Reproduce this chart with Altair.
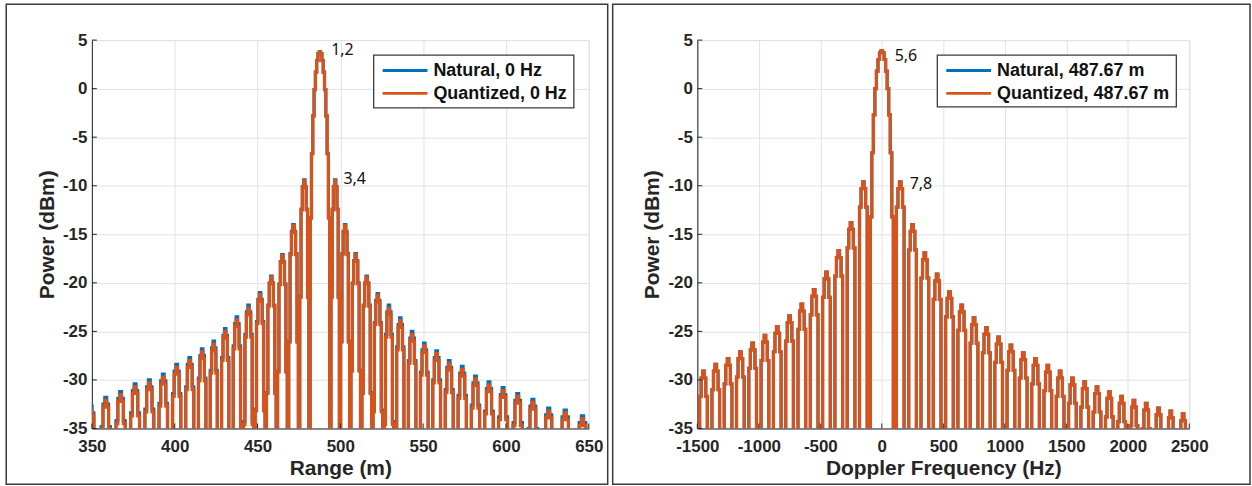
import altair as alt
import pandas as pd

# ---------------- data ----------------
# Range cut (left panel): null positions (m) and lobe peak levels (dBm)
RANGE_NULLS = [345.3, 353.9, 362.9, 371.8, 380.4, 389.0, 397.2, 405.2, 413.0, 420.2,
               427.0, 434.0, 441.1, 448.1, 455.0, 461.7, 468.4, 475.1, 481.4, 494.0,
               499.8, 506.0, 512.6, 519.3, 526.0, 532.7, 539.7, 547.0, 554.4, 561.9,
               569.6, 577.6, 585.6, 593.9, 602.6, 611.6, 620.9, 630.7, 640.9, 651.5]
RANGE_PEAKS_QUANTIZED = [-33.0, -32.1, -31.5, -30.7, -30.3, -29.7, -28.7, -28.0, -27.1, -26.3,
                         -25.0, -23.8, -22.6, -21.2, -19.4, -17.2, -14.1, -9.5, 3.8,
                         -9.5, -14.1, -17.1, -19.4, -21.3, -22.6, -23.9, -25.3, -26.5, -27.3,
                         -28.3, -28.9, -29.9, -30.5, -31.1, -31.7, -32.3, -33.2, -33.4, -34.0]
RANGE_PEAKS_NATURAL = [-32.7, -31.8, -31.2, -30.4, -30.0, -29.4, -28.4, -27.7, -26.8, -26.0,
                       -24.7, -23.5, -22.3, -21.0, -19.3, -17.1, -14.0, -9.4, 3.8,
                       -9.4, -14.0, -17.0, -19.3, -21.1, -22.3, -23.6, -25.0, -26.2, -27.0,
                       -28.0, -28.6, -29.6, -30.2, -30.8, -31.4, -32.0, -32.9, -33.1, -33.7]

# Doppler cut (right panel): null positions (Hz) and lobe peak levels (dBm)
DOPPLER_NULLS = [-1600, -1500, -1400, -1300, -1200, -1100, -1000, -900, -800, -700,
                 -600, -500, -400, -300, -200, -100, 100, 200, 300, 400, 500, 600,
                 700, 800, 900, 1000, 1100, 1200, 1300, 1400, 1500, 1600, 1700, 1800,
                 1900, 2000, 2100, 2200, 2300, 2400, 2500]
DOPPLER_PEAKS_QUANTIZED = [-30.0, -29.1, -28.4, -27.8, -27.1, -26.2, -25.4, -24.5, -23.4, -22.2,
                           -20.7, -18.9, -16.7, -13.8, -9.6, 3.9,
                           -9.6, -14.0, -16.9, -19.1, -20.9, -22.3, -23.6, -24.6, -25.6, -26.4,
                           -27.2, -27.8, -28.5, -29.1, -29.8, -30.2, -30.7, -31.2, -31.7, -32.1,
                           -32.4, -32.9, -33.2, -33.5]
DOPPLER_PEAKS_NATURAL = [-30.0, -29.1, -28.4, -27.8, -27.1, -26.2, -25.4, -24.5, -23.4, -22.2,
                         -20.7, -18.9, -16.7, -13.8, -9.6, 3.9,
                         -9.6, -14.0, -16.9, -19.1, -20.9, -22.3, -23.6, -24.6, -25.6, -26.4,
                         -27.2, -27.8, -28.5, -29.1, -29.8, -30.2, -30.7, -31.2, -31.7, -32.1,
                         -32.4, -32.9, -33.2, -33.5]

# sampled lobe profiles (fraction across the lobe, level below the lobe peak in dB)
SIDELOBE_U = [0.125, 0.25, 0.375, 0.5, 0.625, 0.75, 0.875]
RANGE_SIDELOBE_DB = [-12.0, -3.0, -0.7, 0.0, -0.7, -3.0, -12.0]
DOPPLER_SIDELOBE_DB = [-30.0, -2.6, -0.7, 0.0, -0.7, -2.6, -30.0]
MAINLOBE_U = [0.0625, 0.125, 0.1875, 0.25, 0.3125, 0.375, 0.4375, 0.5,
              0.5625, 0.625, 0.6875, 0.75, 0.8125, 0.875, 0.9375]
MAINLOBE_DB = [-17.1, -10.5, -6.6, -3.9, -2.1, -0.9, -0.2, 0.0,
               -0.2, -0.9, -2.1, -3.9, -6.6, -10.5, -17.1]
NULL_LEVEL = -80.0

RANGE_TICKS = [350, 400, 450, 500, 550, 600, 650]
DOPPLER_TICKS = [-1500, -1000, -500, 0, 500, 1000, 1500, 2000, 2500]
POWER_TICKS = [-35, -30, -25, -20, -15, -10, -5, 0, 5]

RANGE_LEGEND = ["Natural, 0 Hz", "Quantized, 0 Hz"]
DOPPLER_LEGEND = ["Natural, 487.67 m", "Quantized, 487.67 m"]
SERIES_COLORS = ["#0072BD", "#D95319"]

RANGE_NOTE_TEXT = ["1,2", "3,4"]
RANGE_NOTE_X = [494.5, 501.9]
RANGE_NOTE_Y = [4.0, -9.3]
DOPPLER_NOTE_TEXT = ["5,6", "7,8"]
DOPPLER_NOTE_X = [105, 227]
DOPPLER_NOTE_Y = [3.4, -9.8]

FONT = "Liberation Sans"
INK = "#262626"
H = 390


def build_trace(nulls, peaks, side_db):
    main = peaks.index(max(peaks))
    xs, ys = [nulls[0]], [NULL_LEVEL]
    for i, p in enumerate(peaks):
        a, b = nulls[i], nulls[i + 1]
        us, ds = (MAINLOBE_U, MAINLOBE_DB) if i == main else (SIDELOBE_U, side_db)
        for u, d in zip(us, ds):
            xs.append(a + u * (b - a))
            ys.append(p + d)
        xs.append(b)
        ys.append(NULL_LEVEL)
    return pd.DataFrame({"x": xs, "y": ys})


def one_row():
    return alt.Data(values=[{"k": 0}])


def panel(nulls, peaks_n, peaks_q, side_db, xdom, xticks, xtitle, legend_labels,
          note_text, note_x, note_y, W, frame, legend_box):
    xscale = alt.Scale(domain=xdom, nice=False, zero=False)
    yscale = alt.Scale(domain=[-35, 5], nice=False, zero=False)
    xaxis = alt.Axis(values=xticks, title=xtitle, labelExpr="toString(datum.value)",
                     labelPadding=10, titlePadding=3, labelFlush=False)
    yaxis = alt.Axis(values=POWER_TICKS, title="Power (dBm)", labelExpr="toString(datum.value)",
                     labelPadding=5, titlePadding=5)

    def X():
        return alt.X("x:Q", scale=xscale, axis=xaxis)

    def Y():
        return alt.Y("y:Q", scale=yscale, axis=yaxis)

    fx0, fy0, fx1, fy1 = frame
    frame_mark = alt.Chart(one_row()).mark_rect(
        fillOpacity=0, stroke="#3a3a3a", strokeWidth=1.5
    ).encode(x=alt.value(fx0), x2=alt.value(fx1), y=alt.value(fy0), y2=alt.value(fy1))

    lines = []
    for df, color in zip([build_trace(nulls, peaks_n, side_db),
                          build_trace(nulls, peaks_q, side_db)], SERIES_COLORS):
        lines.append(alt.Chart(df).mark_line(
            color=color, strokeWidth=3.2, interpolate="step", clip=True
        ).encode(x=X(), y=Y()))

    xt = alt.Chart(pd.DataFrame({"x": xticks})).mark_rule(color=INK, strokeWidth=1).encode(
        x=X(), y=alt.value(H), y2=alt.value(H - 5))
    yt = alt.Chart(pd.DataFrame({"y": POWER_TICKS})).mark_rule(color=INK, strokeWidth=1).encode(
        y=Y(), x=alt.value(0), x2=alt.value(5))

    lx0, ly0, lx1, ly1 = legend_box
    box = alt.Chart(one_row()).mark_rect(fill="white", stroke="#3a3a3a", strokeWidth=1.3).encode(
        x=alt.value(lx0), x2=alt.value(lx1), y=alt.value(ly0), y2=alt.value(ly1))
    legend = [box]
    row_y = [ly0 + 15.5, ly0 + 38.5]
    for lab, color, ry in zip(legend_labels, SERIES_COLORS, row_y):
        legend.append(alt.Chart(one_row()).mark_rule(color=color, strokeWidth=3).encode(
            x=alt.value(lx0 + 9), x2=alt.value(lx0 + 54), y=alt.value(ry)))
        legend.append(alt.Chart(one_row()).mark_text(
            text=lab, align="left", baseline="middle", font=FONT, fontWeight="bold",
            fontSize=18, color="#111111"
        ).encode(x=alt.value(lx0 + 60), y=alt.value(ry + 1)))

    notes = alt.Chart(pd.DataFrame({"x": note_x, "y": note_y, "t": note_text})).mark_text(
        align="left", baseline="middle", font="Noto Sans", fontSize=16, color="#111111"
    ).encode(x=X(), y=Y(), text="t:N")

    return alt.layer(frame_mark, *lines, xt, yt, *legend, notes).properties(width=W, height=H)


left = panel(RANGE_NULLS, RANGE_PEAKS_NATURAL, RANGE_PEAKS_QUANTIZED, RANGE_SIDELOBE_DB,
             [350, 650], RANGE_TICKS, "Range (m)", RANGE_LEGEND,
             RANGE_NOTE_TEXT, RANGE_NOTE_X, RANGE_NOTE_Y, 499,
             (-86, -36, 518, 446), (283, 15, 484, 68))
right = panel(DOPPLER_NULLS, DOPPLER_PEAKS_NATURAL, DOPPLER_PEAKS_QUANTIZED, DOPPLER_SIDELOBE_DB,
              [-1500, 2500], DOPPLER_TICKS, "Doppler Frequency (Hz)", DOPPLER_LEGEND,
              DOPPLER_NOTE_TEXT, DOPPLER_NOTE_X, DOPPLER_NOTE_Y, 494,
              (-85, -36, 555, 446), (241, 15, 481, 67))

chart = alt.hconcat(left, right, spacing=1).properties(
    background="white",
    padding={"left": 4.25, "top": 1.25, "right": 0, "bottom": 0},
).configure_view(stroke="#dcdcdc", strokeWidth=1).configure_axis(
    grid=True, gridColor="#e2e2e2", gridWidth=1,
    domainColor=INK, domainWidth=1, ticks=False,
    labelFont=FONT, labelFontSize=17, labelFontWeight="bold", labelColor=INK,
    titleFont=FONT, titleFontSize=21, titleFontWeight="bold", titleColor=INK,
)

chart.save("out.html", embed_options={"renderer": "svg", "actions": False})
